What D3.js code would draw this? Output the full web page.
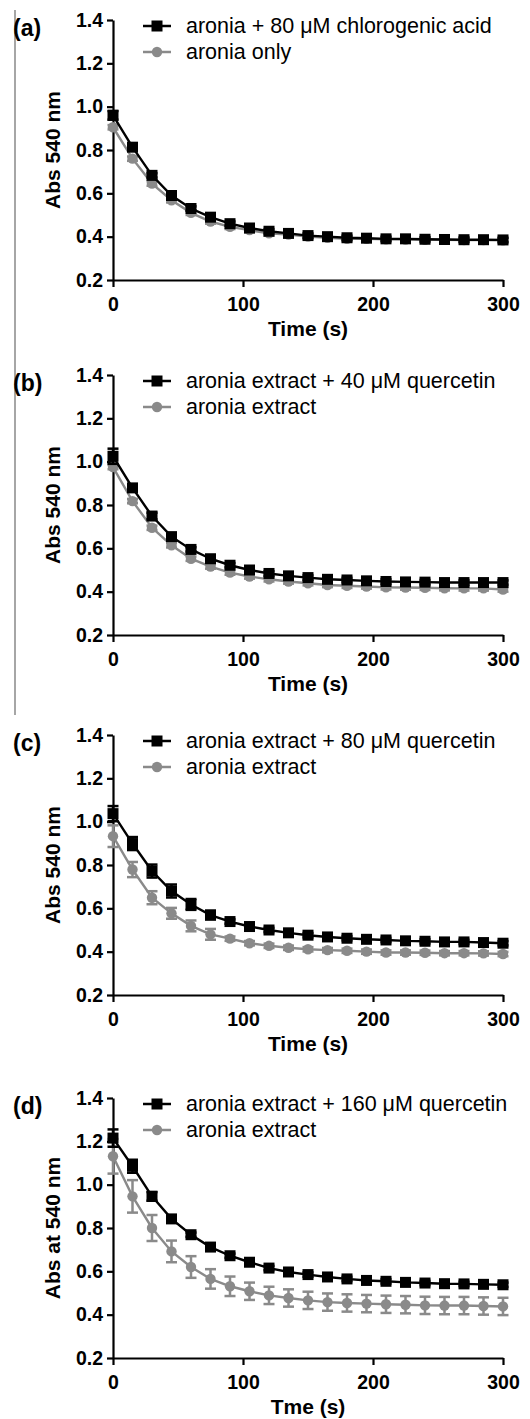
<!DOCTYPE html>
<html>
<head>
<meta charset="utf-8">
<script src="https://cdn.jsdelivr.net/npm/d3@7"></script>
<style>
  body { margin: 0; background: #fff; }
  svg { display: block; font-family: "Liberation Sans", Arial, sans-serif; }
</style>
</head>
<body>
<script>
// time points (s)
const time = [0, 15, 30, 45, 60, 75, 90, 105, 120, 135, 150, 165, 180, 195, 210, 225, 240, 255, 270, 285, 300];

// panel (a)
const aBlack = [0.96, 0.813, 0.683, 0.59, 0.53, 0.49, 0.46, 0.44, 0.425, 0.415, 0.405, 0.40, 0.395, 0.393, 0.39, 0.39, 0.388, 0.387, 0.386, 0.386, 0.385];
const aBlackErr = [0.02, 0.01, 0.01, 0.01, 0.01, 0.01, 0.01, 0.01, 0.01, 0.01, 0.01, 0.01, 0.01, 0.01, 0.01, 0.01, 0.01, 0.01, 0.01, 0.01, 0.01];
const aGray = [0.905, 0.76, 0.645, 0.568, 0.51, 0.47, 0.445, 0.43, 0.415, 0.41, 0.40, 0.395, 0.39, 0.39, 0.388, 0.387, 0.385, 0.385, 0.384, 0.384, 0.383];
const aGrayErr = [0.01, 0.01, 0.01, 0.01, 0.01, 0.01, 0.01, 0.01, 0.01, 0.01, 0.01, 0.01, 0.01, 0.01, 0.01, 0.01, 0.01, 0.01, 0.01, 0.01, 0.01];

// panel (b)
const bBlack = [1.025, 0.879, 0.749, 0.654, 0.595, 0.552, 0.522, 0.50, 0.484, 0.473, 0.465, 0.457, 0.454, 0.45, 0.447, 0.445, 0.444, 0.442, 0.442, 0.442, 0.442];
const bBlackErr = [0.035, 0.015, 0.015, 0.01, 0.01, 0.01, 0.01, 0.01, 0.01, 0.01, 0.01, 0.01, 0.01, 0.01, 0.01, 0.01, 0.01, 0.01, 0.01, 0.01, 0.01];
const bGray = [0.975, 0.818, 0.695, 0.614, 0.552, 0.516, 0.488, 0.47, 0.457, 0.447, 0.439, 0.431, 0.427, 0.424, 0.42, 0.419, 0.418, 0.416, 0.415, 0.415, 0.41];
const bGrayErr = [0.01, 0.01, 0.01, 0.01, 0.01, 0.01, 0.01, 0.01, 0.01, 0.01, 0.01, 0.01, 0.01, 0.01, 0.01, 0.01, 0.01, 0.01, 0.01, 0.01, 0.01];

// panel (c)
const cBlack = [1.037, 0.899, 0.772, 0.68, 0.618, 0.569, 0.539, 0.516, 0.50, 0.487, 0.476, 0.468, 0.462, 0.457, 0.454, 0.45, 0.448, 0.445, 0.445, 0.442, 0.439];
const cBlackErr = [0.035, 0.03, 0.03, 0.03, 0.025, 0.02, 0.01, 0.01, 0.01, 0.01, 0.01, 0.01, 0.01, 0.01, 0.01, 0.01, 0.01, 0.01, 0.01, 0.01, 0.01];
const cGray = [0.933, 0.779, 0.649, 0.577, 0.519, 0.48, 0.46, 0.439, 0.427, 0.418, 0.411, 0.407, 0.404, 0.40, 0.396, 0.396, 0.395, 0.393, 0.393, 0.392, 0.389];
const cGrayErr = [0.05, 0.035, 0.03, 0.025, 0.025, 0.025, 0.01, 0.01, 0.01, 0.01, 0.01, 0.01, 0.01, 0.01, 0.01, 0.01, 0.01, 0.01, 0.01, 0.01, 0.01];

// panel (d)
const dBlack = [1.215, 1.085, 0.946, 0.842, 0.769, 0.712, 0.672, 0.642, 0.615, 0.597, 0.585, 0.574, 0.565, 0.558, 0.554, 0.549, 0.546, 0.543, 0.542, 0.54, 0.538];
const dBlackErr = [0.04, 0.03, 0.02, 0.01, 0.01, 0.01, 0.01, 0.01, 0.01, 0.01, 0.01, 0.01, 0.01, 0.01, 0.01, 0.01, 0.01, 0.01, 0.01, 0.01, 0.01];
const dGray = [1.131, 0.946, 0.80, 0.692, 0.62, 0.565, 0.531, 0.508, 0.489, 0.477, 0.466, 0.458, 0.454, 0.451, 0.448, 0.446, 0.443, 0.442, 0.442, 0.44, 0.438];
const dGrayErr = [0.08, 0.075, 0.06, 0.05, 0.05, 0.045, 0.045, 0.04, 0.04, 0.04, 0.04, 0.04, 0.04, 0.04, 0.04, 0.04, 0.04, 0.04, 0.04, 0.04, 0.04];

const xTicks = [0, 100, 200, 300];
const yTicks = [0.2, 0.4, 0.6, 0.8, 1.0, 1.2, 1.4];

const panels = [
  { tag: "(a)", top: 20, black: aBlack, blackErr: aBlackErr, gray: aGray, grayErr: aGrayErr,
    blackName: "aronia + 80 \u03bcM chlorogenic acid", grayName: "aronia only", yTitle: "Abs 540 nm", xTitle: "Time (s)" },
  { tag: "(b)", top: 375, black: bBlack, blackErr: bBlackErr, gray: bGray, grayErr: bGrayErr,
    blackName: "aronia extract + 40 \u03bcM quercetin", grayName: "aronia extract", yTitle: "Abs 540 nm", xTitle: "Time (s)" },
  { tag: "(c)", top: 735, black: cBlack, blackErr: cBlackErr, gray: cGray, grayErr: cGrayErr,
    blackName: "aronia extract + 80 \u03bcM quercetin", grayName: "aronia extract", yTitle: "Abs 540 nm", xTitle: "Time (s)" },
  { tag: "(d)", top: 1098, black: dBlack, blackErr: dBlackErr, gray: dGray, grayErr: dGrayErr,
    blackName: "aronia extract + 160 \u03bcM quercetin", grayName: "aronia extract", yTitle: "Abs at 540 nm", xTitle: "Tme (s)" }
];

const W = 530, H = 1419;
const left = 113, right = 503, plotH = 260;
const grey = "#8a8a8a";

const svg = d3.select("body").append("svg")
    .attr("width", W)
    .attr("height", H);

// thin vertical rule on the left edge
svg.append("line")
    .attr("x1", 15).attr("x2", 15)
    .attr("y1", 10).attr("y2", 715)
    .attr("stroke", "#888")
    .attr("stroke-width", 1.5);

const x = d3.scaleLinear().domain([0, 300]).range([left, right]);

panels.forEach(p => {
  const y = d3.scaleLinear().domain([0.2, 1.4]).range([p.top + plotH, p.top]);
  const g = svg.append("g");

  // axes
  const yAxis = g.append("g")
      .attr("transform", `translate(${left},0)`)
      .call(d3.axisLeft(y).tickValues(yTicks).tickFormat(d3.format(".1f")).tickSize(6).tickSizeOuter(0).tickPadding(4));
  const xAxis = g.append("g")
      .attr("transform", `translate(0,${p.top + plotH})`)
      .call(d3.axisBottom(x).tickValues(xTicks).tickSize(7).tickSizeOuter(0).tickPadding(10));
  [yAxis, xAxis].forEach(a => {
    a.select(".domain").attr("stroke", "#000").attr("stroke-width", 2.2);
    a.selectAll(".tick line").attr("stroke", "#000").attr("stroke-width", 2.2);
    a.selectAll(".tick text")
        .attr("fill", "#000")
        .style("font-size", "19.5px")
        .style("font-weight", "bold");
  });

  // titles
  g.append("text")
      .attr("x", (left + right) / 2)
      .attr("y", p.top + plotH + 56)
      .attr("text-anchor", "middle")
      .style("font-size", "21px")
      .style("font-weight", "bold")
      .text(p.xTitle);
  g.append("text")
      .attr("transform", `translate(60,${p.top + plotH / 2}) rotate(-90)`)
      .attr("text-anchor", "middle")
      .style("font-size", "21px")
      .style("font-weight", "bold")
      .text(p.yTitle);
  g.append("text")
      .attr("x", 13)
      .attr("y", p.top + 16)
      .style("font-size", "23px")
      .style("font-weight", "bold")
      .text(p.tag);

  const line = d3.line()
      .x((d, i) => x(time[i]))
      .y(d => y(d));

  const series = [
    { vals: p.gray, err: p.grayErr, color: grey, shape: "circle" },
    { vals: p.black, err: p.blackErr, color: "#000", shape: "square" }
  ];

  series.forEach(s => {
    const sg = g.append("g");
    // error bars
    const eb = sg.selectAll(".err").data(s.vals).join("g");
    eb.append("line")
        .attr("x1", (d, i) => x(time[i])).attr("x2", (d, i) => x(time[i]))
        .attr("y1", (d, i) => y(d - s.err[i])).attr("y2", (d, i) => y(d + s.err[i]))
        .attr("stroke", s.color).attr("stroke-width", 2.5);
    [-1, 1].forEach(sign => {
      eb.append("line")
          .attr("x1", (d, i) => x(time[i]) - 5.5).attr("x2", (d, i) => x(time[i]) + 5.5)
          .attr("y1", (d, i) => y(d + sign * s.err[i])).attr("y2", (d, i) => y(d + sign * s.err[i]))
          .attr("stroke", s.color).attr("stroke-width", 2.5);
    });

    sg.append("path")
        .attr("d", line(s.vals))
        .attr("fill", "none")
        .attr("stroke", s.color)
        .attr("stroke-width", 2.4);

    if (s.shape === "square") {
      sg.selectAll("rect").data(s.vals).join("rect")
          .attr("x", (d, i) => x(time[i]) - 5.5)
          .attr("y", d => y(d) - 5.5)
          .attr("width", 11).attr("height", 11)
          .attr("fill", s.color);
    } else {
      sg.selectAll("circle").data(s.vals).join("circle")
          .attr("cx", (d, i) => x(time[i]))
          .attr("cy", d => y(d))
          .attr("r", 5.2)
          .attr("fill", s.color);
    }
  });

  // legend
  const legend = [
    { name: p.blackName, color: "#000", shape: "square", dy: 6 },
    { name: p.grayName, color: grey, shape: "circle", dy: 32 }
  ];
  legend.forEach(l => {
    const ly = p.top + l.dy;
    g.append("line")
        .attr("x1", 143).attr("x2", 171)
        .attr("y1", ly).attr("y2", ly)
        .attr("stroke", l.color).attr("stroke-width", 2.5);
    if (l.shape === "square") {
      g.append("rect").attr("x", 151.5).attr("y", ly - 5.5).attr("width", 11).attr("height", 11).attr("fill", l.color);
    } else {
      g.append("circle").attr("cx", 157).attr("cy", ly).attr("r", 5.2).attr("fill", l.color);
    }
    g.append("text")
        .attr("x", 186)
        .attr("y", ly + 7)
        .style("font-size", "21.5px")
        .attr("fill", "#000")
        .text(l.name);
  });
});
</script>
</body>
</html>
